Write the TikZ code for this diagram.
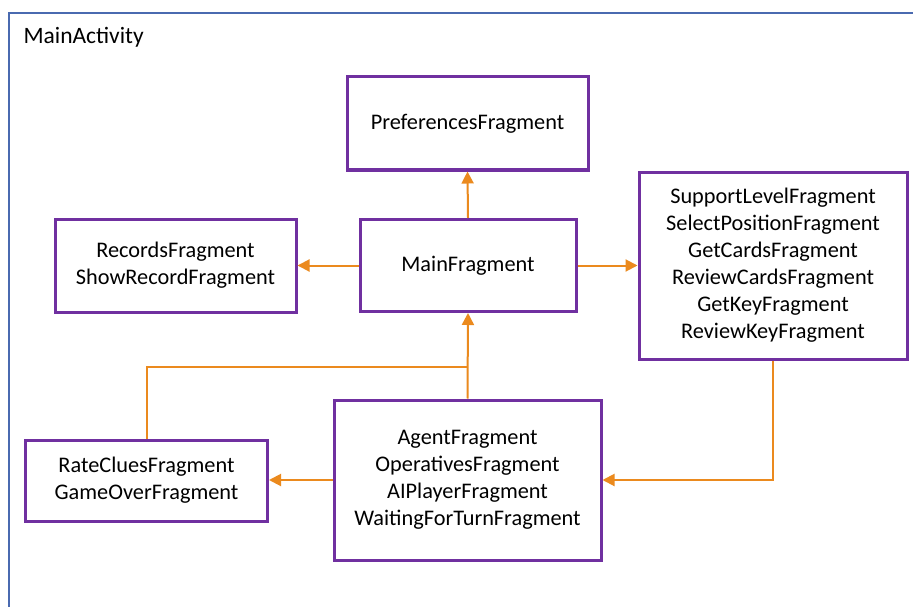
\documentclass[tikz,border=0pt]{standalone}
\usepackage{fontspec}
\setmainfont{Carlito}
\usetikzlibrary{arrows.meta}
\definecolor{frag}{HTML}{7030A0}
\definecolor{link}{HTML}{EB8A1E}
\definecolor{frame}{HTML}{4A6AB0}
\begin{document}
\begin{tikzpicture}[x=1pt,y=-1pt,
  fragbox/.style={draw=frag,line width=3pt,fill=white,rectangle,inner sep=0pt,
    align=center,font=\fontsize{22.3}{27}\selectfont},
  conn/.style={draw=link,line width=2pt},
  arr/.style={conn,-{Triangle[length=12pt,width=12pt]}}]
\useasboundingbox (0,0) rectangle (913,607);
\fill[white] (0,0) rectangle (913,607);
\draw[frame,line width=1.3pt] (9,607) -- (9,13) -- (913,13);
\node[anchor=west,font=\fontsize{23.5}{28}\selectfont] (act) at (20,37) {MainActivity};
\node[fragbox,minimum width=241pt,minimum height=93pt] (pref) at (467.5,123.5) {PreferencesFragment};
\node[fragbox,minimum width=241pt,minimum height=93pt] (rec) at (175.5,265.5) {RecordsFragment\\ShowRecordFragment};
\node[fragbox,minimum width=216pt,minimum height=92pt] (main) at (468,265.5) {MainFragment};
\node[fragbox,minimum width=268pt,minimum height=187pt] (right) at (773,265.5) {SupportLevelFragment\\SelectPositionFragment\\GetCardsFragment\\ReviewCardsFragment\\GetKeyFragment\\ReviewKeyFragment};
\node[fragbox,minimum width=242pt,minimum height=81pt] (rate) at (146.5,480.5) {RateCluesFragment\\GameOverFragment};
\node[fragbox,minimum width=267pt,minimum height=160pt] (agent) at (467.5,480) {AgentFragment\\OperativesFragment\\AIPlayerFragment\\WaitingForTurnFragment};
\coordinate (join) at (468,367);
\draw[arr] (main.north) -- (pref.south);
\draw[arr] (main.west) -- (rec.east);
\draw[arr] (main.east) -- (right.west);
\draw[arr] (agent.north) -- (main.south);
\draw[conn] (rate.north) |- (join);
\draw[arr] (agent.west) -- (rate.east |- agent.west);
\draw[arr] (right.south) |- (agent.east);
\end{tikzpicture}
\end{document}
